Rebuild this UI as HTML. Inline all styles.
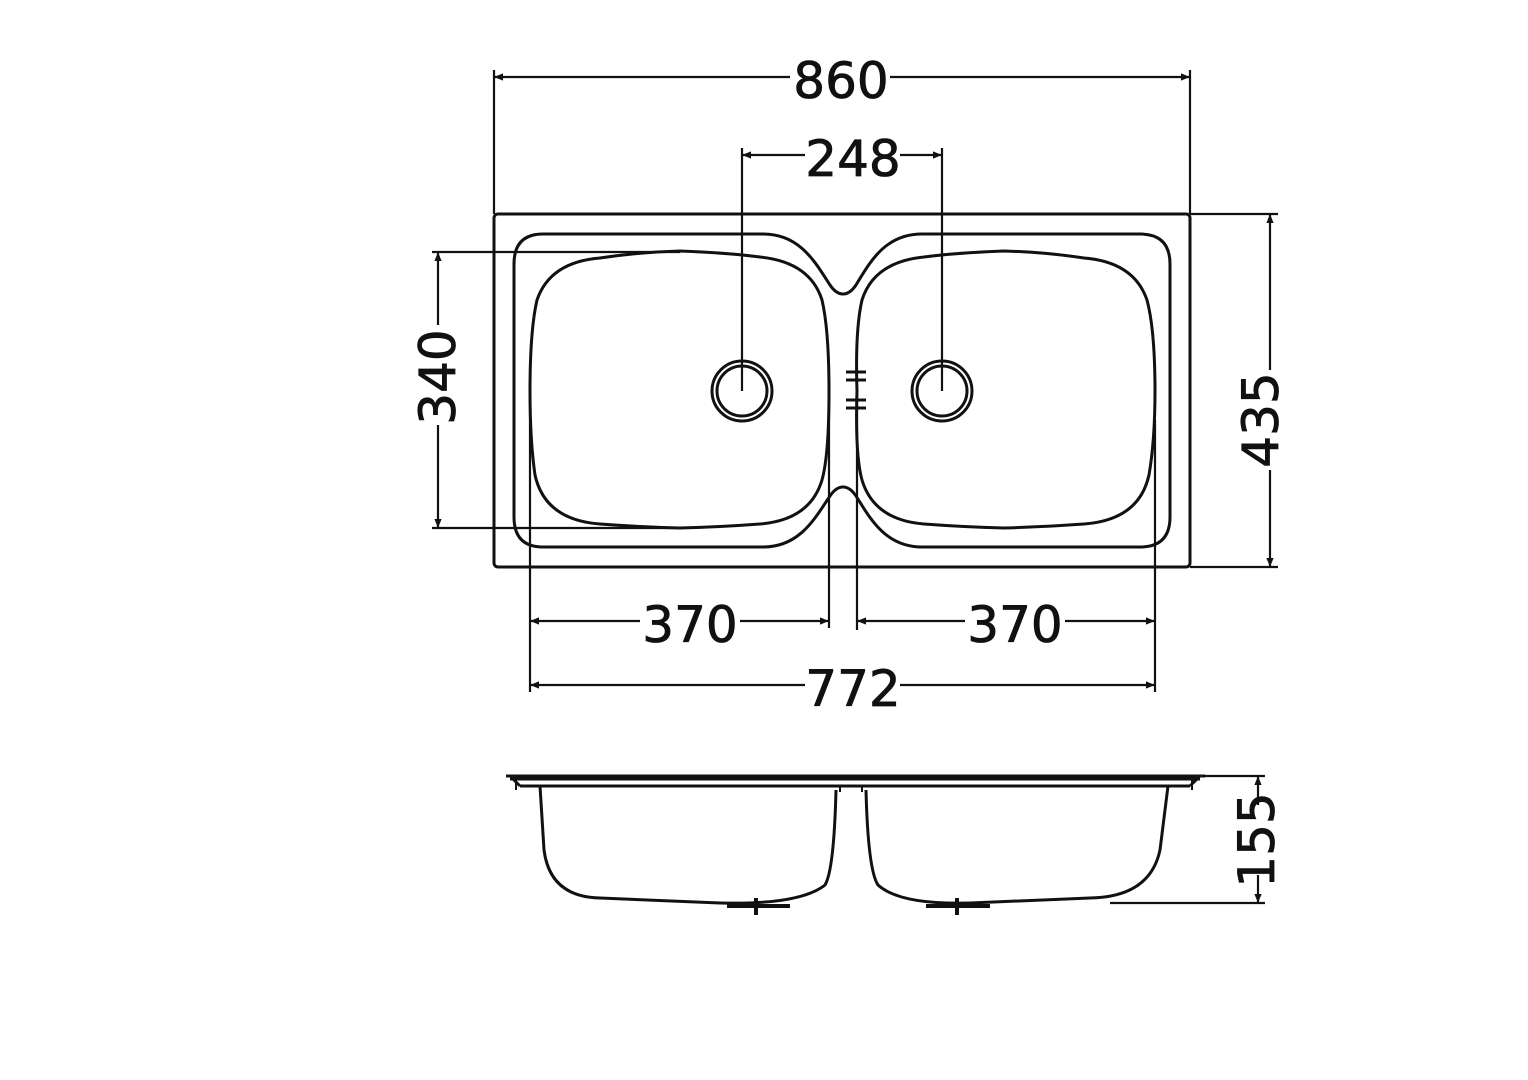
<!DOCTYPE html>
<html><head><meta charset="utf-8"><style>
html,body{margin:0;padding:0;background:#fff;}
svg{display:block;}
text{font-family:"DejaVu Sans","Liberation Sans",sans-serif;font-size:50px;fill:#111;stroke:#111;stroke-width:0.8px;}
</style></head><body>
<svg width="1528" height="1080" viewBox="0 0 1528 1080" xmlns="http://www.w3.org/2000/svg">
<defs>
<marker id="a" viewBox="0 0 10 10" refX="10" refY="5" markerWidth="16" markerHeight="9" orient="auto-start-reverse" markerUnits="userSpaceOnUse"><path d="M0,1 L10,5 L0,9 z" fill="#111"/></marker>
</defs>
<g fill="none" stroke="#111" stroke-width="3">
<rect x="494" y="214" width="696" height="353" rx="4"/>
<path d="M543,234 H763 C800,234 815,262 830,285 C838,297 848,297 856,285 C870,262 885,234 922,234 H1140 Q1170,234 1170,264 V517 Q1170,547 1140,547 H922 C885,547 870,518 856,496 C848,484 838,484 830,496 C815,518 800,547 763,547 H543 Q514,547 514,517 V264 Q514,234 543,234 Z"/>
<path d="M600,258 Q640,252 680,251 Q730,253 760,257 Q810,262 822,300 Q829,330 829,391 Q829,455 822,480 Q810,520 760,524 Q720,527 680,528 Q640,527 600,524 Q545,520 535,475 Q530,440 530,391 Q530,330 537,300 Q550,262 600,258 Z"/>
<path d="M1084,258 Q1044,252 1004,251 Q954,253 924,257 Q874,262 862,300 Q855,330 857,391 Q855,455 862,480 Q874,520 924,524 Q964,527 1004,528 Q1044,527 1084,524 Q1139,520 1149,475 Q1155,440 1155,391 Q1155,330 1147,300 Q1134,262 1084,258 Z"/>
<circle cx="742" cy="391" r="30"/><circle cx="742" cy="391" r="25"/>
<circle cx="942" cy="391" r="30"/><circle cx="942" cy="391" r="25"/>
<path d="M846,372 H866 M846,380 H866 M846,400 H866 M846,408 H866"/>
<g stroke-width="2.2">
<path d="M494,70 V214 M1190,70 V214 M742,148 V391 M942,148 V391 M432,252 H680 M432,528 H680 M1190,214 H1278 M1190,567 H1278 M530,390 V692 M829,390 V628 M857,390 V630 M1155,420 V692"/>
<path d="M494,77 H790" marker-start="url(#a)"/>
<path d="M1190,77 H890" marker-start="url(#a)"/>
<path d="M742,155 H805" marker-start="url(#a)"/>
<path d="M942,155 H900" marker-start="url(#a)"/>
<path d="M438,252 V325" marker-start="url(#a)"/>
<path d="M438,528 V425" marker-start="url(#a)"/>
<path d="M1270,214 V370" marker-start="url(#a)"/>
<path d="M1270,567 V470" marker-start="url(#a)"/>
<path d="M530,621 H640" marker-start="url(#a)"/>
<path d="M829,621 H740" marker-start="url(#a)"/>
<path d="M857,621 H965" marker-start="url(#a)"/>
<path d="M1155,621 H1065" marker-start="url(#a)"/>
<path d="M530,685 H805" marker-start="url(#a)"/>
<path d="M1155,685 H900" marker-start="url(#a)"/>
<path d="M1205,776 H1265 M1110,903 H1265"/>
<path d="M1258,776 V805" marker-start="url(#a)"/>
<path d="M1258,903 V875" marker-start="url(#a)"/>
</g>
<path d="M506,776 H1205 M510,779 H1200 M520,786 H1190 M512,778 L520,786 M1198,778 L1190,786"/>
<path d="M516,780 V790 M1192,780 V790" stroke-width="2"/>
<path d="M540,786 L544,850 Q550,897 600,898 L720,903 Q800,905 825,885 Q834,870 836,790"/>
<path d="M866,790 Q868,870 878,885 Q900,905 970,903 L1090,898 Q1150,897 1160,850 L1168,786"/>
<path d="M840,786 V792 M862,786 V792" stroke-width="2"/>
<path d="M727,906 H790 M756,898 V915 M926,906 H990 M957,898 V915" stroke-width="4"/>
</g>
<text x="841" y="98" text-anchor="middle">860</text>
<text x="853" y="176" text-anchor="middle">248</text>
<text x="690" y="642" text-anchor="middle">370</text>
<text x="1015" y="642" text-anchor="middle">370</text>
<text x="853" y="706" text-anchor="middle">772</text>
<text transform="translate(455,377) rotate(-90)" text-anchor="middle">340</text>
<text transform="translate(1278,420) rotate(-90)" text-anchor="middle">435</text>
<text transform="translate(1274,840) rotate(-90)" text-anchor="middle">155</text>
</svg>
</body></html>
